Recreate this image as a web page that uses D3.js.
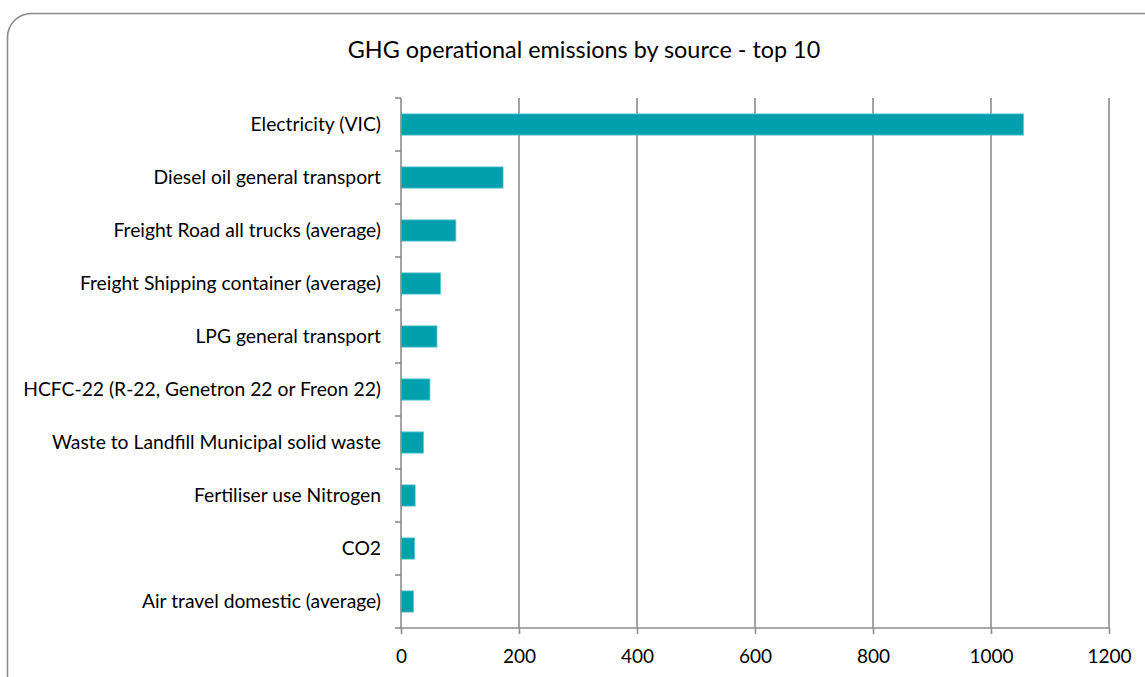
<!DOCTYPE html>
<html><head><meta charset="utf-8">
<script src="https://cdn.jsdelivr.net/npm/d3@7"></script>
<style>body{margin:0;background:#fff;} svg{display:block;}</style>
</head><body>
<svg id="c" width="1145" height="677"></svg>
<script>
const categories = ["Electricity (VIC)","Diesel oil general transport","Freight Road all trucks (average)","Freight Shipping container (average)","LPG general transport","HCFC-22 (R-22, Genetron 22 or Freon 22)","Waste to Landfill Municipal solid waste","Fertiliser use Nitrogen","CO2","Air travel domestic (average)"];
const values = [1055, 173, 93, 67, 61, 49, 38, 24, 23, 21];
const xTicks = [0,200,400,600,800,1000,1200];
const title = "GHG operational emissions by source - top 10";

const svg = d3.select("#c");
const font = "Lato, 'Open Sans', sans-serif";
svg.append("rect").attr("x",7.5).attr("y",13.5).attr("width",1160).attr("height",700)
  .attr("rx",24).attr("fill","#fff").attr("stroke","#8a8a8a").attr("stroke-width",1.6);

const x = d3.scaleLinear().domain([0,1200]).range([401,1109]);
const y = d3.scaleBand().domain(categories).range([98,628]).paddingInner(0.6).paddingOuter(0.3);

svg.append("text").attr("x",584).attr("y",58).attr("text-anchor","middle")
  .attr("font-family",font).attr("font-size",23.4).attr("fill","#000").text(title);

// gridlines
svg.append("g").selectAll("line").data(xTicks.slice(1)).join("line")
  .attr("x1",d=>x(d)).attr("x2",d=>x(d)).attr("y1",98).attr("y2",628)
  .attr("stroke","#8c8c8c").attr("stroke-width",1.6);

// bars
svg.append("g").selectAll("rect").data(values).join("rect")
  .attr("x",x(0)).attr("y",(d,i)=>y(categories[i]))
  .attr("width",d=>x(d)-x(0)).attr("height",y.bandwidth())
  .attr("fill","#00A0AE").attr("stroke","#5cc6cf").attr("stroke-width",0.8);

// x axis
const xa = svg.append("g").attr("transform","translate(0,628)")
  .call(d3.axisBottom(x).tickValues(xTicks).tickSize(6).tickPadding(16).tickFormat(d3.format("d")));
xa.select(".domain").attr("stroke","#8c8c8c").attr("stroke-width",1.6).attr("d","M401,0H1109");
xa.selectAll(".tick line").attr("stroke","#8c8c8c").attr("stroke-width",1.6);
xa.selectAll("text").attr("font-family",font).attr("font-size",19).attr("fill","#000");

// y axis
const ya = svg.append("g").attr("transform","translate(401,0)")
  .call(d3.axisLeft(y).tickSize(0).tickPadding(20));
ya.select(".domain").attr("stroke","#8c8c8c").attr("stroke-width",1.6).attr("d","M0,98V628");
ya.selectAll("text").attr("font-family",font).attr("font-size",19.3).attr("fill","#000");
const bounds = d3.range(categories.length+1).map(i=>98+i*530/categories.length);
svg.append("g").selectAll("line").data(bounds).join("line")
  .attr("x1",395).attr("x2",401).attr("y1",d=>d).attr("y2",d=>d)
  .attr("stroke","#8c8c8c").attr("stroke-width",1.6);
</script>
</body></html>
